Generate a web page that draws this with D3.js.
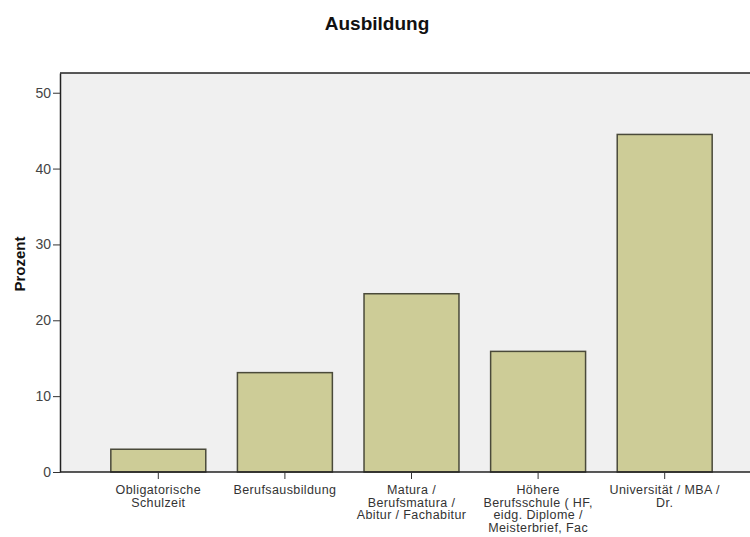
<!DOCTYPE html>
<html>
<head>
<meta charset="utf-8">
<script src="https://cdn.jsdelivr.net/npm/d3@7"></script>
<style>
  body { margin: 0; background: #fff; }
  svg { display: block; font-family: "Liberation Sans", Arial, sans-serif; }
</style>
</head>
<body>
<div id="chart"></div>
<script>
var categories = ["Obligatorische Schulzeit", "Berufsausbildung", "Matura / Berufsmatura / Abitur / Fachabitur",
                  "Höhere Berufsschule ( HF, eidg. Diplome / Meisterbrief, Fac", "Universität / MBA / Dr."]
var labelLines = [["Obligatorische", "Schulzeit"],
                  ["Berufsausbildung"],
                  ["Matura /", "Berufsmatura /", "Abitur / Fachabitur"],
                  ["Höhere", "Berufsschule ( HF,", "eidg. Diplome /", "Meisterbrief, Fac"],
                  ["Universität / MBA /", "Dr."]]
var values = [3.0, 13.1, 23.5, 15.9, 44.5]
var yTicks = [0, 10, 20, 30, 40, 50]

var width = 750, height = 537
var plot = {left: 60, top: 73, right: 750, bottom: 472}

var svg = d3.select("#chart").append("svg")
    .attr("width", width)
    .attr("height", height)

// plot background
svg.append("rect")
    .attr("x", plot.left)
    .attr("y", plot.top)
    .attr("width", plot.right - plot.left)
    .attr("height", plot.bottom - plot.top)
    .attr("fill", "#f0f0f0")

svg.append("text")
    .attr("x", 377)
    .attr("y", 30)
    .attr("text-anchor", "middle")
    .style("font-size", "19px")
    .style("font-weight", "bold")
    .attr("fill", "#111")
    .text("Ausbildung")

var x = d3.scaleBand()
    .domain(categories)
    .range([95, 728])
    .paddingInner(0.25)
    .paddingOuter(0.125)

var y = d3.scaleLinear()
    .domain([0, 52.6])
    .range([plot.bottom, plot.top])

// bars
svg.selectAll("rect.bar")
    .data(values)
    .enter()
    .append("rect")
    .attr("class", "bar")
    .attr("x", function(d, i) { return x(categories[i]) })
    .attr("y", function(d) { return y(d) })
    .attr("width", x.bandwidth())
    .attr("height", function(d) { return y(0) - y(d) })
    .attr("fill", "#cdcc97")
    .attr("stroke", "#4a4a3a")
    .attr("stroke-width", 1.5)

// top frame line
svg.append("line")
    .attr("x1", plot.left).attr("x2", plot.right)
    .attr("y1", plot.top).attr("y2", plot.top)
    .attr("stroke", "#222").attr("stroke-width", 1.5)

// Y axis
var yAxis = svg.append("g")
    .attr("transform", "translate(" + plot.left + ",0)")
    .call(d3.axisLeft(y).tickValues(yTicks).tickSize(7).tickPadding(2).tickSizeOuter(0))
yAxis.select(".domain").attr("stroke", "#222").attr("stroke-width", 1.5)
yAxis.selectAll(".tick line").attr("stroke", "#333")
yAxis.selectAll(".tick text")
    .style("font-size", "14px")
    .style("font-family", "Liberation Sans, Arial, sans-serif")
    .attr("fill", "#444")

// X axis
var xAxis = svg.append("g")
    .attr("transform", "translate(0," + plot.bottom + ")")
    .call(d3.axisBottom(x).tickSize(7).tickSizeOuter(0).tickFormat(""))
xAxis.select(".domain")
    .attr("d", "M" + plot.left + ",0H" + plot.right)
    .attr("stroke", "#222").attr("stroke-width", 1.5)
xAxis.selectAll(".tick line").attr("stroke", "#333")

xAxis.selectAll(".tick")
    .each(function(d, i) {
        var t = d3.select(this).append("text")
            .attr("text-anchor", "middle")
            .attr("fill", "#333")
            .style("font-size", "12.5px")
            .style("letter-spacing", "0.4px")
            .style("font-family", "Liberation Sans, Arial, sans-serif")
        labelLines[i].forEach(function(line, j) {
            t.append("tspan")
                .attr("x", 0)
                .attr("y", 22 + j * 12.7)
                .text(line)
        })
    })

svg.append("text")
    .attr("transform", "translate(25,264) rotate(-90)")
    .attr("text-anchor", "middle")
    .style("font-size", "15px")
    .style("font-weight", "bold")
    .attr("fill", "#111")
    .text("Prozent")
</script>
</body>
</html>
